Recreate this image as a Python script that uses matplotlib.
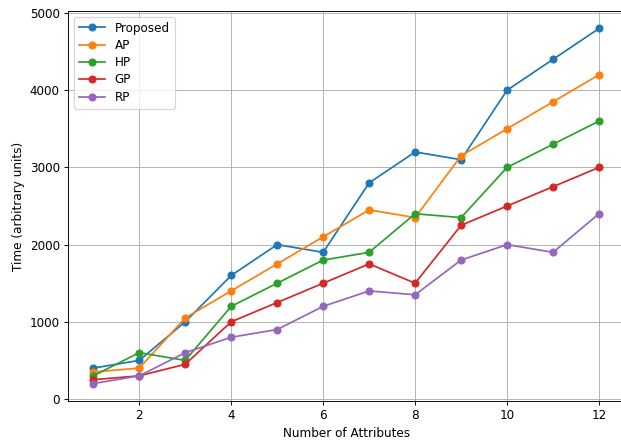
import matplotlib
matplotlib.use('Agg')
import matplotlib.pyplot as plt

attributes = [1, 2, 3, 4, 5, 6, 7, 8, 9, 10, 11, 12]

proposed = [400, 500, 1000, 1600, 2000, 1900, 2800, 3200, 3100, 4000, 4400, 4800]
ap = [350, 400, 1050, 1400, 1750, 2100, 2450, 2350, 3150, 3500, 3850, 4200]
hp = [300, 600, 500, 1200, 1500, 1800, 1900, 2400, 2350, 3000, 3300, 3600]
gp = [250, 300, 450, 1000, 1250, 1500, 1750, 1500, 2250, 2500, 2750, 3000]
rp = [200, 300, 600, 800, 900, 1200, 1400, 1350, 1800, 2000, 1900, 2400]

series = [('Proposed', proposed), ('AP', ap), ('HP', hp), ('GP', gp), ('RP', rp)]

plt.rcParams['font.size'] = 10.4

dpi = 83
fig = plt.figure(figsize=(621 / dpi, 441 / dpi), dpi=dpi)
ax = fig.add_axes([0.1095, 0.090, 1.0053 - 0.1095, 0.9757 - 0.090])

for name, vals in series:
    ax.plot(attributes, vals, marker='o', label=name)

ax.set_xlabel('Number of Attributes')
ax.set_ylabel('Time (arbitrary units)')
ax.legend(loc='upper left', labelspacing=0.36, handlelength=2.2)
ax.grid(True)

fig.savefig('out.png', dpi=dpi)
